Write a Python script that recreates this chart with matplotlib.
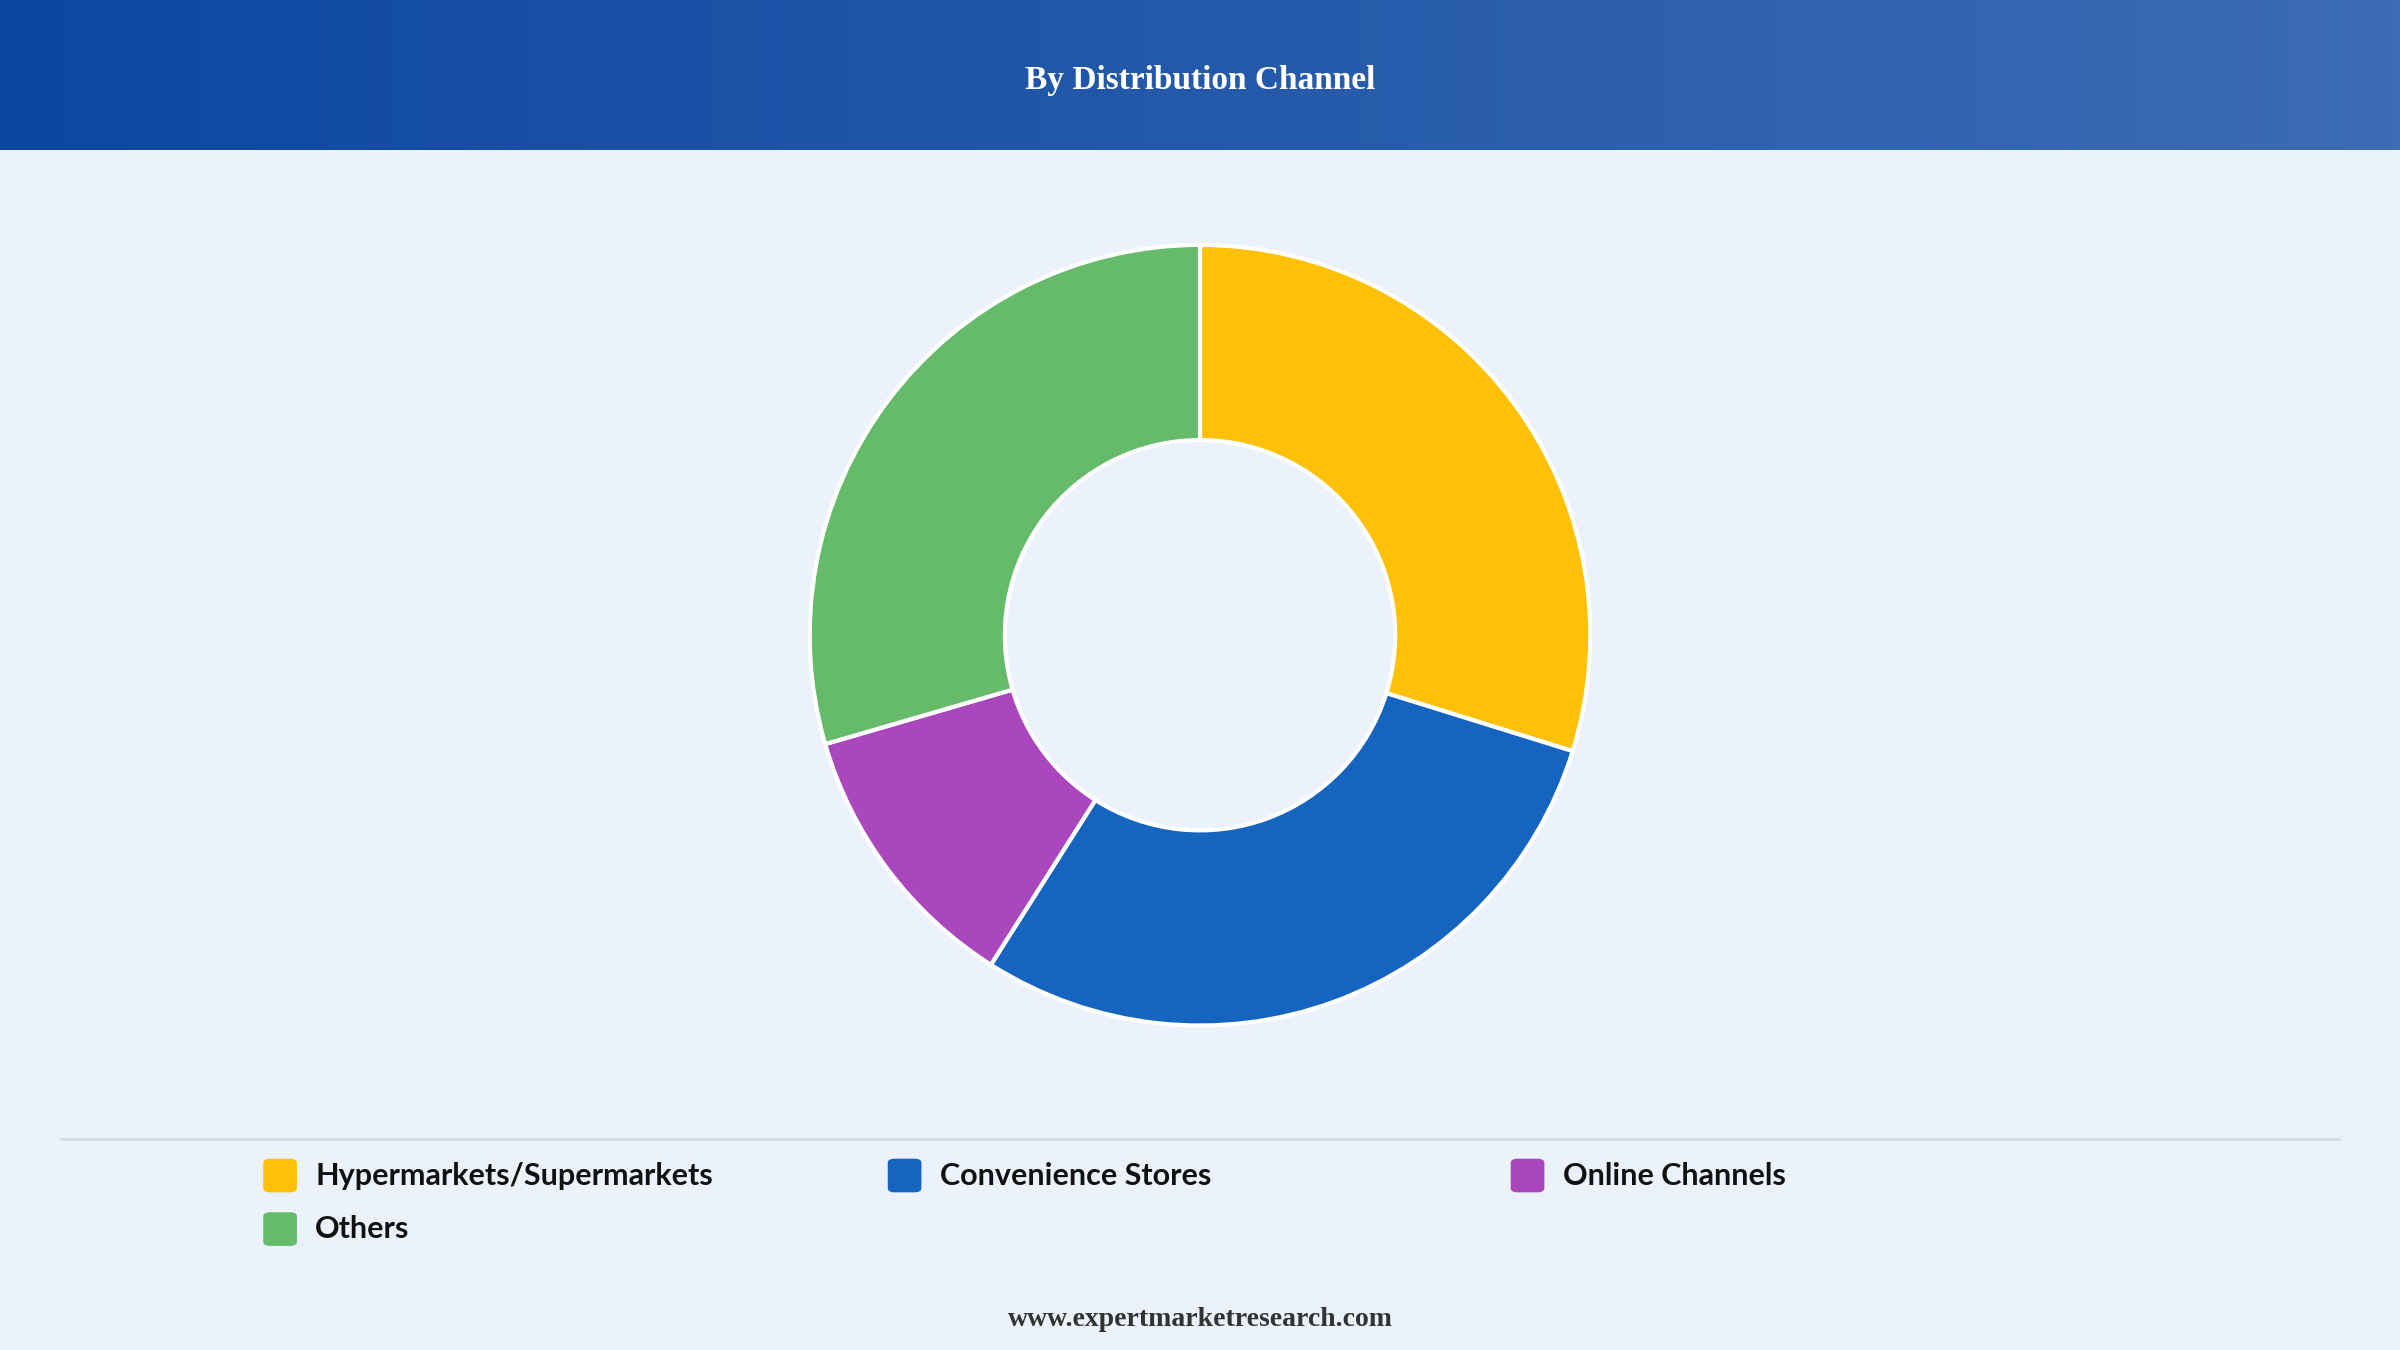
import matplotlib
matplotlib.use("Agg")
import matplotlib.pyplot as plt
import numpy as np
from matplotlib.patches import FancyBboxPatch

categories = ["Hypermarkets/Supermarkets", "Convenience Stores", "Online Channels", "Others"]
values = [29.8, 29.2, 11.5, 29.5]
colors = ["#FFC107", "#1565C0", "#AB47BC", "#66BB6A"]

W, H = 1568, 882
fig = plt.figure(figsize=(24, 13.5), dpi=100)
fig.patch.set_facecolor("#EBF2FB")

# header gradient
hax = fig.add_axes([0, 1 - 98 / H, 1, 98 / H])
grad = np.linspace(0, 1, 256).reshape(1, -1)
from matplotlib.colors import LinearSegmentedColormap
cm = LinearSegmentedColormap.from_list("g", ["#0D47A1", "#3B6CB4"])
hax.imshow(grad, aspect="auto", cmap=cm, extent=[0, 1, 0, 1])
hax.set_axis_off()
hax.text(0.5, 0.46, "By Distribution Channel", ha="center", va="center", color="white",
         fontsize=24, fontweight="bold", family="DejaVu Serif", fontname="Liberation Serif")

# donut
cy = 1 - 415 / H
r = 255 / H
ax = fig.add_axes([0.5 - r * H / W * 1.1, cy - r * 1.1, 2 * r * H / W * 1.1, 2 * r * 1.1])
ax.pie(values, colors=colors, startangle=90, counterclock=False, radius=1.0,
       wedgeprops=dict(width=0.5, edgecolor="white", linewidth=3))
ax.set_xlim(-1.1, 1.1); ax.set_ylim(-1.1, 1.1)
ax.set_aspect("equal")
ax.set_axis_off()

# separator
fig.add_artist(plt.Line2D([40 / W, 1528 / W], [1 - 744 / H] * 2, color="#D5DCE5", lw=2))

# legend
pos = [(183, 768), (591, 768), (998, 768), (183, 803)]
for (x, y), lab, c in zip(pos, categories, colors):
    s = 22
    fig.add_artist(FancyBboxPatch(((x - 11) / W, 1 - (y + 11) / H), s / W, s / H,
                                  boxstyle="round,pad=0,rounding_size=0.003",
                                  transform=fig.transFigure, facecolor=c, edgecolor="none"))
    fig.text((x + 23) / W, 1 - y / H, lab, ha="left", va="center", fontsize=22,
             fontweight="bold", fontname="Lato", color="#111111")

fig.text(0.5, 1 - 862 / H, "www.expertmarketresearch.com", ha="center", va="center",
         fontsize=20, fontweight="bold", fontname="Liberation Serif", color="#333333")

fig.savefig("out.png", dpi=100, facecolor=fig.get_facecolor())
